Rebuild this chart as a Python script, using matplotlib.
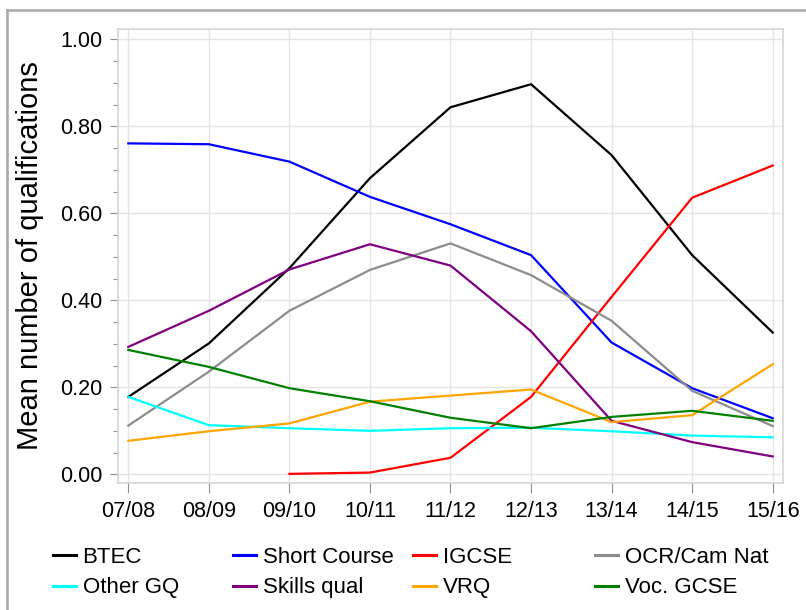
import matplotlib
matplotlib.use("Agg")
import matplotlib.pyplot as plt
from matplotlib.lines import Line2D
from matplotlib.ticker import MultipleLocator
import numpy as np

plt.rcParams['font.family'] = ['Liberation Sans', 'DejaVu Sans']

years = ["07/08", "08/09", "09/10", "10/11", "11/12", "12/13", "13/14", "14/15", "15/16"]

btec = [0.178, 0.301, 0.474, 0.681, 0.844, 0.897, 0.734, 0.504, 0.326]
short_course = [0.761, 0.759, 0.719, 0.638, 0.575, 0.504, 0.303, 0.198, 0.129]
igcse = [np.nan, np.nan, 0.001, 0.004, 0.038, 0.178, 0.408, 0.636, 0.710]
ocr_cam_nat = [0.112, 0.236, 0.376, 0.470, 0.531, 0.458, 0.353, 0.192, 0.111]
other_gq = [0.178, 0.113, 0.106, 0.100, 0.106, 0.107, 0.099, 0.089, 0.085]
skills_qual = [0.293, 0.376, 0.471, 0.529, 0.480, 0.329, 0.123, 0.074, 0.041]
vrq = [0.077, 0.099, 0.117, 0.167, 0.181, 0.195, 0.120, 0.136, 0.253]
voc_gcse = [0.286, 0.247, 0.198, 0.168, 0.130, 0.106, 0.132, 0.146, 0.123]

series_names = ["BTEC", "Short Course", "IGCSE", "OCR/Cam Nat",
                "Other GQ", "Skills qual", "VRQ", "Voc. GCSE"]
series_values = [btec, short_course, igcse, ocr_cam_nat,
                 other_gq, skills_qual, vrq, voc_gcse]
series_colors = ["#000000", "#0000ff", "#ff0000", "#8c8c8c",
                 "#00ffff", "#800080", "#ffa500", "#008000"]

W, H = 806, 610
fig = plt.figure(figsize=(W / 100, H / 100), dpi=100)

# outer border (top and left)
fig.add_artist(Line2D([7 / W, 7 / W], [0, 1 - 10 / H], transform=fig.transFigure,
                      color="#a8a8a8", lw=1.8))
fig.add_artist(Line2D([7 / W, 1], [1 - 10 / H, 1 - 10 / H], transform=fig.transFigure,
                      color="#a8a8a8", lw=1.8))

L, T, R, B = 118, 29, 783, 483
ax = fig.add_axes([L / W, 1 - B / H, (R - L) / W, (B - T) / H])

x = np.arange(len(years))
handles = []
for name, vals, col in zip(series_names, series_values, series_colors):
    h, = ax.plot(x, vals, color=col, lw=1.6, label=name, zorder=3)
    handles.append(h)

ax.set_xlim(-0.128, len(years) - 1 + 0.128)
ax.set_ylim(-0.02, 1.024)
ax.set_xticks(x)
ax.set_xticklabels(years)
ax.yaxis.set_major_locator(MultipleLocator(0.2))
ax.yaxis.set_minor_locator(MultipleLocator(0.05))
ax.set_yticklabels([f"{v:.2f}" for v in ax.get_yticks()])
ax.set_ylim(-0.02, 1.024)

ax.grid(True, which="major", color="#e4e4e4", lw=1.0, zorder=0)
for s in ax.spines.values():
    s.set_color("#d6d6d6")
    s.set_linewidth(1.2)

ax.tick_params(axis="y", which="major", length=6, width=0.8, color="#909090",
               labelsize=15.5, pad=5)
ax.tick_params(axis="y", which="minor", length=3.5, width=0.8, color="#909090")
ax.tick_params(axis="x", which="major", length=7, width=0.8, color="#909090",
               labelsize=15.5, pad=6)

fig.text(30 / W, 1 - 256 / H, "Mean number of qualifications", rotation=90,
         ha="center", va="center", fontsize=21)

col_x = [53, 233, 413, 595]
for c in range(4):
    hs = handles[c::4]
    leg = fig.legend(handles=hs, labels=[h.get_label() for h in hs],
                     loc="upper left", bbox_to_anchor=(col_x[c] / W, 1 - 547 / H),
                     bbox_transform=fig.transFigure, frameon=False, fontsize=16,
                     handlelength=1.05, handletextpad=0.28, borderpad=0,
                     borderaxespad=0, labelspacing=0.42)
    for lh in leg.get_lines():
        lh.set_linewidth(2.2)

fig.savefig("out.png", dpi=100)
